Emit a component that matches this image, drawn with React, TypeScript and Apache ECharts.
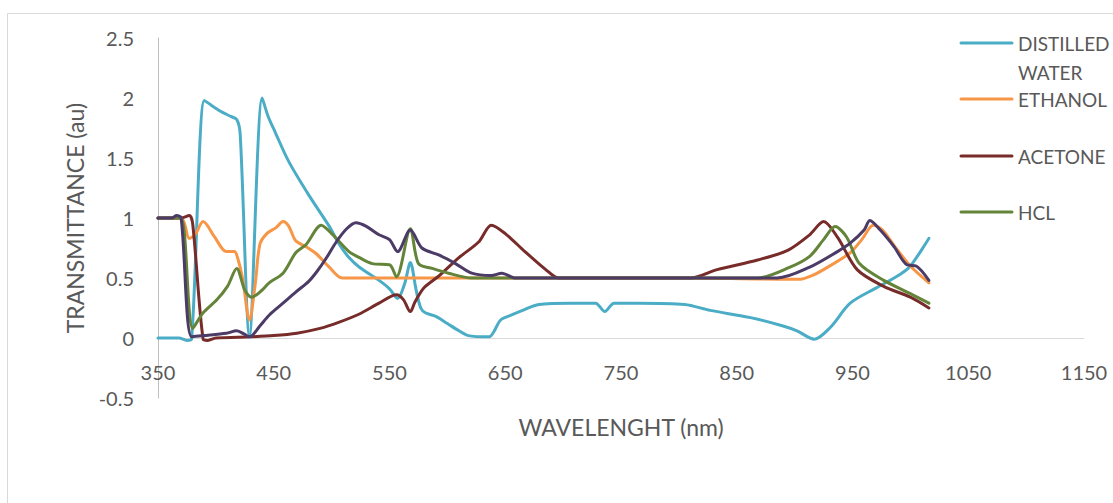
import React, { useEffect, useRef } from "react";
import * as echarts from "echarts";

// Wavelength (nm) and transmittance (au) per series
const wlWater = [350,368,375,379,390,396,404,412,418,421,429,440,445,451,463,481,498,506,515,524,541,550,557,563,568,573,577,581,590,600,610,618,636,640,646,655,665,679,707,728,736,744,765,805,827,862,890,902,917,931,948,971,991,1000,1016];
const tWater = [0,0,-0.02,-0.01,1.98,1.94,1.89,1.85,1.82,1.7,0.02,2.0,1.85,1.72,1.47,1.18,0.93,0.79,0.67,0.59,0.48,0.41,0.33,0.45,0.63,0.4,0.25,0.21,0.18,0.12,0.06,0.02,0.01,0.05,0.15,0.19,0.23,0.28,0.29,0.29,0.22,0.29,0.29,0.28,0.23,0.17,0.1,0.06,-0.01,0.09,0.29,0.42,0.53,0.6,0.83];

const wlEth = [350,370,373,377,382,389,399,409,416,419,423,429,434,438,444,452,458,463,469,478,487,498,509,520,600,700,800,890,905,915,925,948,958,968,976,986,1000,1016];
const tEth = [1,1,0.95,0.83,0.86,0.97,0.84,0.72,0.72,0.66,0.5,0.15,0.45,0.78,0.87,0.92,0.97,0.93,0.81,0.76,0.7,0.59,0.5,0.5,0.5,0.5,0.5,0.49,0.49,0.52,0.57,0.71,0.82,0.94,0.9,0.77,0.6,0.46];

const wlAce = [350,370,377,380,389,393,400,430,450,470,490,506,524,541,556,562,568,572,580,593,610,627,638,650,667,685,696,710,810,833,868,894,913,925,937,954,977,1000,1016];
const tAce = [1,1,1.02,0.95,-0.01,-0.02,0,0.01,0.02,0.04,0.08,0.13,0.2,0.29,0.36,0.32,0.22,0.3,0.42,0.52,0.67,0.8,0.94,0.87,0.72,0.57,0.5,0.5,0.5,0.57,0.65,0.73,0.86,0.97,0.84,0.57,0.43,0.34,0.25];

const wlHcl = [350,362,370,380,389,401,410,418,425,431,440,446,458,469,478,491,500,515,524,535,550,556,568,575,587,601,621,640,700,868,896,913,925,935,945,956,977,1000,1016];
const tHcl = [1,1,1,0.08,0.21,0.32,0.43,0.58,0.4,0.34,0.4,0.46,0.54,0.71,0.78,0.94,0.87,0.72,0.67,0.62,0.61,0.51,0.91,0.62,0.58,0.54,0.5,0.5,0.5,0.5,0.59,0.68,0.82,0.93,0.84,0.62,0.48,0.37,0.29];

const wlS5 = [350,362,366,370,379,389,409,418,425,429,438,446,458,470,480,487,495,504,513,521,530,541,550,557,568,578,593,607,621,638,647,659,700,885,913,937,948,960,965,974,986,997,1005,1016];
const tS5 = [1,1,1.02,1.0,0.01,0.02,0.04,0.06,0.03,0.01,0.1,0.19,0.29,0.39,0.47,0.55,0.66,0.8,0.91,0.96,0.93,0.86,0.82,0.72,0.9,0.75,0.69,0.62,0.54,0.52,0.54,0.5,0.5,0.5,0.59,0.72,0.79,0.9,0.98,0.9,0.76,0.61,0.6,0.48];

const seriesNames = ["DISTILLED WATER", "ETHANOL", "ACETONE", "HCL", "SERIES 5"];
const legendLabels = ["DISTILLED\nWATER", "ETHANOL", "ACETONE", "HCL"];
const colors = ["#4BACC6", "#F79646", "#772C2A", "#64843A", "#4B3B66"];

const FONT = "Lato, 'Noto Sans', sans-serif";
const TXT = "#595959";

const zip = (xs: number[], ys: number[]) => xs.map((x, i) => [x, ys[i]]);

export default function App() {
  const ref = useRef<HTMLDivElement>(null);
  useEffect(() => {
    if (!ref.current) return;
    const chart = echarts.init(ref.current, null, { renderer: "svg" });
    const sets = [
      zip(wlWater, tWater),
      zip(wlEth, tEth),
      zip(wlAce, tAce),
      zip(wlHcl, tHcl),
      zip(wlS5, tS5),
    ];
    const legendRows = [43, 99, 156, 212];
    const legendGraphics: any[] = [];
    legendLabels.forEach((lab, i) => {
      legendGraphics.push({
        type: "line",
        shape: { x1: 961, y1: legendRows[i], x2: 1012, y2: legendRows[i] },
        style: { stroke: colors[i], lineWidth: 3, lineCap: "round" },
      });
      legendGraphics.push({
        type: "text",
        x: 1018,
        y: legendRows[i] - 14.5,
        style: {
          text: lab,
          fill: TXT,
          fontSize: 19,
          fontFamily: FONT,
          lineHeight: 29,
          align: "left",
          verticalAlign: "top",
        },
      });
    });
    chart.setOption({
      animation: false,
      backgroundColor: "#ffffff",
      grid: { left: 158, right: 29, top: 38, bottom: 105, containLabel: false },
      xAxis: {
        type: "value",
        min: 350,
        max: 1150,
        interval: 100,
        name: "WAVELENGHT (nm)",
        nameLocation: "middle",
        nameGap: 17,
        nameTextStyle: { color: TXT, fontSize: 23, fontFamily: FONT },
        axisLine: { onZero: true, lineStyle: { color: "#d9d9d9", width: 1 } },
        axisTick: { show: false },
        splitLine: { show: false },
        axisLabel: {
          color: TXT,
          fontSize: 20,
          fontFamily: FONT,
          margin: -36,
          formatter: (v: number) => String(v),
        },
      },
      yAxis: {
        type: "value",
        min: -0.5,
        max: 2.5,
        interval: 0.5,
        name: "TRANSMITTANCE (au)",
        nameLocation: "middle",
        nameGap: 72,
        nameRotate: 90,
        nameTextStyle: { color: TXT, fontSize: 23, fontFamily: FONT },
        axisLine: { show: true, onZero: false, lineStyle: { color: "#bfbfbf", width: 1 } },
        axisTick: { show: false },
        splitLine: { show: false },
        axisLabel: {
          color: TXT,
          fontSize: 20,
          fontFamily: FONT,
          margin: 24,
          formatter: (v: number) => String(v),
        },
      },
      series: sets.map((d, i) => ({
        name: seriesNames[i],
        type: "line",
        data: d,
        smooth: 0.3,
        symbol: "none",
        lineStyle: { color: colors[i], width: 3, cap: "round", join: "round" },
        itemStyle: { color: colors[i] },
        z: 2 + i,
      })),
      graphic: [
        {
          type: "rect",
          shape: { x: 7.5, y: 13.5, width: 1200, height: 600 },
          style: { fill: "none", stroke: "#d9d9d9", lineWidth: 1 },
          silent: true,
        },
        ...legendGraphics,
      ],
    });
    return () => chart.dispose();
  }, []);
  return (
    <div
      ref={ref}
      style={{ position: "fixed", left: 0, top: 0, width: 1113, height: 503 }}
    />
  );
}
